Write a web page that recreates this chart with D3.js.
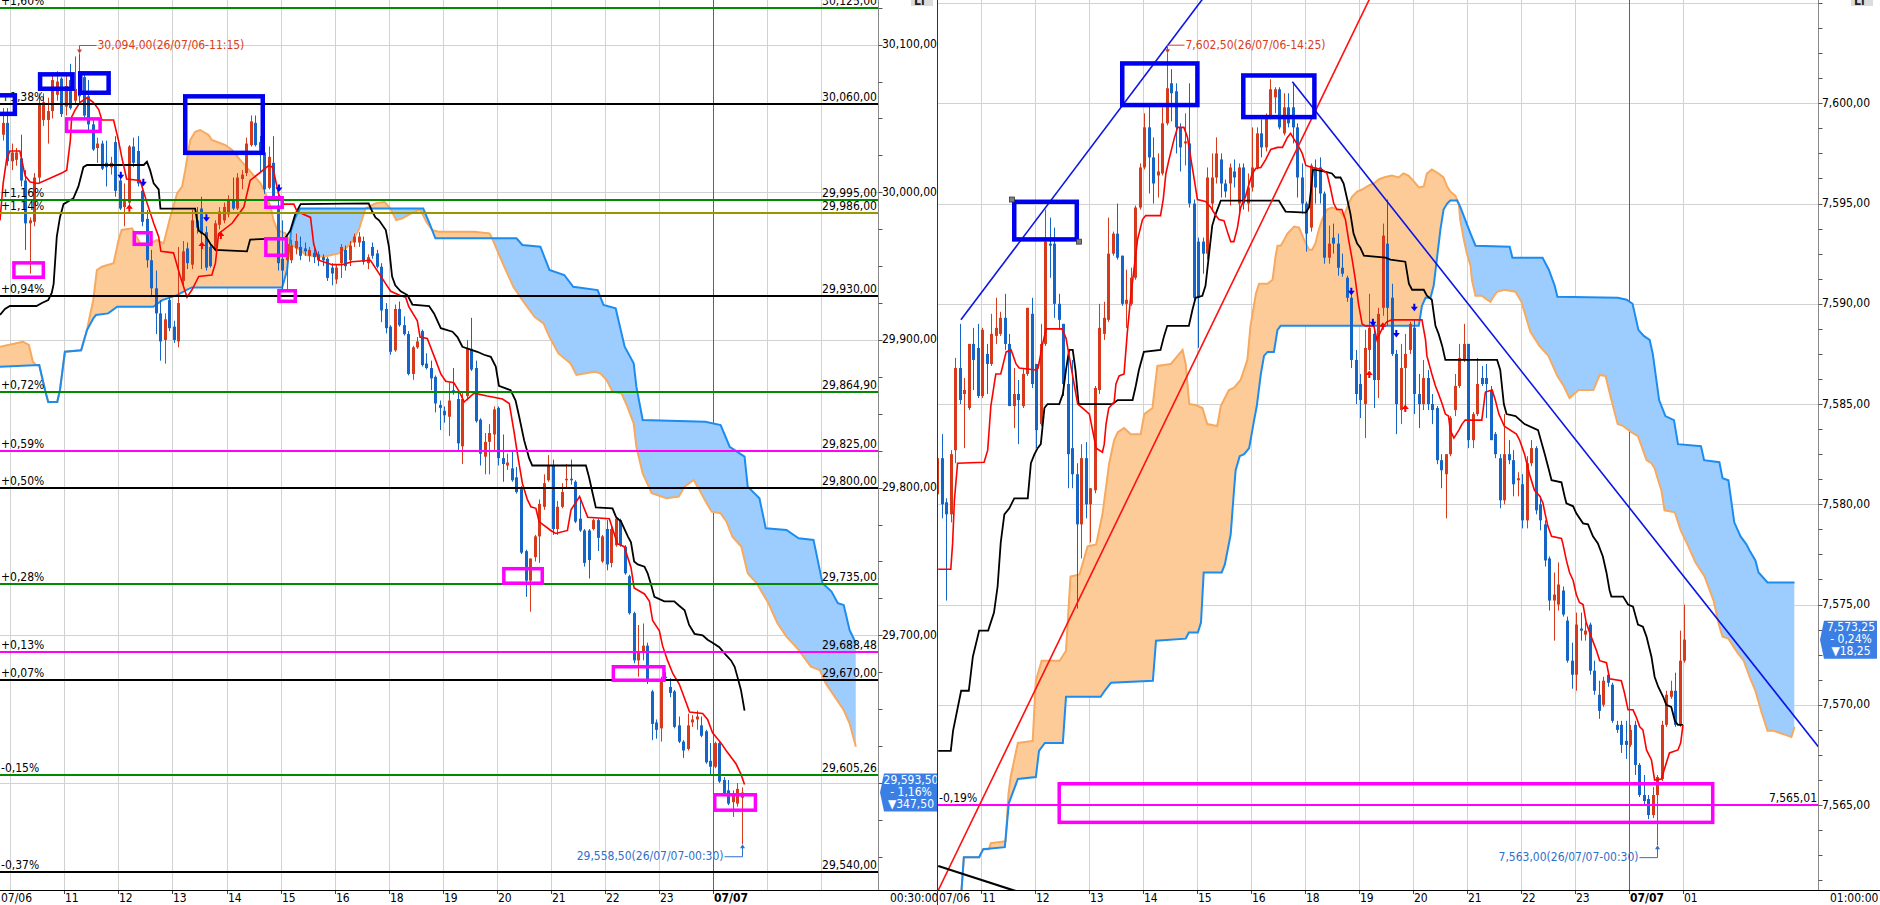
<!DOCTYPE html>
<html><head><meta charset="utf-8">
<script src="https://cdn.jsdelivr.net/npm/d3@7"></script>
<style>
body{margin:0;background:#fff;overflow:hidden}
svg{display:block}
text{font-family:"Liberation Sans Narrow","Arial Narrow","DejaVu Sans Condensed",sans-serif;font-size:12px}
</style></head><body>
<svg id="c" width="1880" height="905"></svg>
<script>
// ================= DATA =================
// Left panel (index 0 = first visible 5-min candle)
const leftCandles = [
[30039,30057,30035,30047],[30047,30057,30018,30021],[30021,30033,30015,30027],[30022,30030,30018,30027],[30023,30039,30004,30008],
[30008,30015,29961,29979],[29979,29983,29945,29981],[29980,30013,29977,30010],[30010,30067,30006,30060],[30049,30067,30045,30061],
[30049,30064,30033,30055],[30055,30080,30050,30076],[30066,30082,30062,30075],[30077,30078,30051,30053],[30058,30080,30052,30072],
[30076,30087,30056,30057],[30062,30092,30060,30070],[30074,30094,30060,30065],[30078,30080,30050,30052],[30065,30076,30042,30046],
[30046,30049,30028,30029],[30030,30037,30020,30033],[30033,30035,30015,30016],[30020,30035,30004,30017],[30017,30024,30012,30020],
[30034,30038,29997,30001],[30008,30012,29988,29989],[29990,30006,29977,29994],[29993,30032,29988,30031],[30031,30037,30017,30020],
[30028,30038,30004,30006],[30001,30005,29977,29980],[29982,29988,29949,29954],[29954,29961,29929,29935],[29935,29947,29904,29918],
[29918,29927,29886,29899],[29900,29918,29884,29914],[29927,29930,29906,29908],[29909,29913,29898,29900],[29899,29963,29895,29925],
[29940,29967,29935,29960],[29962,29966,29948,29952],[29951,29988,29948,29981],[29981,29990,29972,29976],[29989,29997,29948,29972],
[29973,29977,29947,29949],[29963,29965,29949,29950],[29961,29981,29960,29979],[29978,29990,29975,29987],[29981,29993,29979,29990],
[29985,29998,29983,29995],[29995,30010,29988,29989],[29989,30013,29988,30010],[30009,30015,30002,30012],[30013,30037,30011,30033],
[30032,30052,30031,30048],[30047,30052,30031,30032],[30034,30038,30013,30028],[30027,30038,29999,30002],[30003,30031,30002,30024],
[30020,30038,29994,29995],[29991,30002,29947,29952],[29955,29981,29934,29947],[29954,29970,29933,29965],[29954,29968,29952,29964],
[29962,29972,29958,29967],[29963,29970,29954,29957],[29962,29966,29957,29960],[29957,29963,29953,29961],[29959,29962,29952,29956],
[29958,29960,29950,29954],[29956,29958,29950,29954],[29955,29956,29940,29942],[29949,29952,29937,29945],[29941,29951,29938,29949],
[29952,29965,29942,29963],[29961,29964,29947,29950],[29954,29967,29950,29964],[29966,29972,29963,29970],[29966,29973,29963,29970],
[29967,29970,29951,29953],[29952,29958,29948,29956],[29963,29966,29955,29957],[29958.6,29961,29948.5,29949.6],[29949.6,29952,29912,29920],
[29921,29925,29904.5,29908],[29909,29910,29890,29892],[29893,29924,29892,29921],[29921,29926,29909,29910],[29910,29916,29903,29904],
[29904,29906,29876,29877],[29877,29896,29873,29895],[29895,29902,29894,29899],[29906,29907,29882,29883],[29884,29891,29880,29881],
[29881,29886,29866,29874],[29875,29876,29851,29857],[29856,29859,29839,29854],[29852,29855,29844,29849],[29848,29871,29835,29859],
[29866,29881,29863,29865],[29860,29866,29825,29830],[29828,29864,29816,29860],[29862,29900,29859,29894],[29894,29915,29879,29880],
[29881,29886,29844,29845],[29846,29847,29815,29823],[29821,29837,29809,29831],[29831,29843,29809,29837],[29836,29855,29825,29853],
[29854,29855,29815,29820],[29820,29836,29804,29816],[29815,29823,29812,29817],[29813,29825,29804,29805],[29807,29814,29796,29797],
[29799,29801,29755,29756],[29757,29758,29726,29737],[29737,29752,29716,29752],[29753,29768,29750,29767],[29767,29792,29749,29789],
[29787,29809,29785,29803],[29805,29822,29804,29815],[29815,29819,29768,29772],[29772,29791,29768,29787],[29787,29803,29786,29797],
[29805,29816,29800,29806],[29806,29819,29802,29805],[29804,29805,29776,29777],[29779,29793,29770,29771],[29771,29772,29746.5,29749],
[29771,29772,29738.5,29751],[29772,29779,29771,29778],[29778,29779,29757,29766],[29750,29768,29749,29767],[29772,29778,29744,29748],
[29749,29774,29746,29772],[29761,29780,29760,29779],[29778,29779,29760,29761],[29760,29761,29741,29742],[29740,29741,29714,29715],
[29715,29716,29681,29683],[29683,29707,29672,29688],[29688,29708,29683,29693],[29693,29695,29667,29669],[29662,29663,29629,29640],
[29641,29643,29630,29636],[29637,29672,29628,29669],[29672,29675,29670,29671],[29665,29671,29658,29661],[29662,29663,29637,29638],
[29639,29645,29627,29628],[29628,29629,29617,29622],[29623,29647,29622,29639],[29641,29646,29638,29643],[29643,29649,29636,29645],
[29639,29645,29631,29632],[29635,29636,29613,29614],[29615,29627,29606,29611],[29611,29628,29610,29627],[29627,29628,29600,29601],
[29602,29604,29591,29593],[29595,29602,29585,29586],[29587,29595,29577,29593],[29586,29600,29584,29596],[29590,29597,29558.5,29593.5]
];
const leftTenkan = [[-0.6,29981],[0.1,30006],[0.9,30023],[1.6,30028],[3.8,30028],[5.0,30011],[6.1,30007],[7.9,30006],[13.1,30013],[14.2,30015],[15.0,30035],[15.3,30051],[16.1,30056],[17.2,30061],[18.7,30064],[20.1,30061],[21.3,30056],[22.0,30049],[24.6,30049],[25.7,30035],[26.4,30024],[27.5,30009],[30.5,30008],[32.0,29993],[33.5,29979],[34.6,29970],[35.1,29960],[37.9,29959],[39.4,29943],[40.9,29929],[42.0,29934],[43.5,29943],[46.4,29944],[47.2,29952],[47.9,29972],[50.9,29979],[53.5,29990],[54.9,30008],[59.0,30018],[59.9,30017],[61.2,29999],[62.4,29992],[64.6,29992],[65.3,29987],[68.3,29983],[69.0,29965],[70.1,29954],[73.1,29951],[75.3,29951],[77.5,29953],[81.6,29954],[85.0,29938],[86.1,29933],[88.3,29930],[89.4,29929],[90.1,29922.5],[92.0,29913],[92.6,29902],[94.2,29901],[96.1,29886],[97.2,29877],[98.3,29872],[100.1,29871],[101.3,29865],[102.4,29858],[103.1,29860],[104.6,29864],[107.5,29862],[110.9,29860],[112.4,29857],[113.5,29837],[114.2,29823],[115.3,29803],[116.4,29792],[117.2,29787],[118.3,29786],[119.0,29777],[121.6,29771],[122.7,29769],[125.3,29771],[126.1,29785],[128.0,29794],[129.0,29786],[129.8,29780],[134.6,29779],[136.4,29762],[137.9,29760],[139.4,29746],[140.1,29732],[142.4,29728],[143.5,29723],[144.2,29710],[145.7,29703],[146.4,29693],[147.5,29683],[148.7,29674],[150.1,29667],[151.2,29658],[152.4,29648],[155.3,29647],[156.4,29643],[157.5,29634],[159.4,29627],[160.5,29622],[162.7,29613],[163.8,29606],[164.6,29599]];
const leftKijun = [[-0.6,29917],[0.5,29921],[1.6,29923],[7.5,29923],[8.7,29925],[10.1,29927],[10.9,29932],[11.3,29938],[12.0,29970],[12.7,29983],[13.5,29992],[15.7,29996],[16.8,30004],[17.9,30017],[18.7,30018.5],[31.3,30018.5],[32.0,30020.7],[32.7,30015],[33.5,30006],[34.6,30002],[35.0,29989],[42.7,29989],[43.5,29974],[44.9,29971],[46.1,29965],[47.2,29961],[54.2,29960],[54.9,29968],[62.7,29969],[63.8,29974],[64.9,29985],[66.1,29992],[81.2,29992.5],[82.0,29987],[82.7,29983],[83.5,29981],[85.0,29974.4],[85.7,29963],[86.4,29943],[87.1,29937],[88.3,29933],[89.8,29930.4],[90.9,29924],[94.6,29923],[95.7,29918],[97.2,29908],[99.8,29905.6],[100.9,29902],[102.0,29895.4],[105.3,29892],[106.8,29890],[108.3,29888.6],[109.4,29882],[110.1,29869],[112.7,29866],[113.8,29859],[114.6,29848],[115.7,29832],[116.8,29820],[117.5,29815],[129.4,29815],[130.1,29807],[130.9,29796],[131.6,29786.6],[135.3,29786],[136.1,29780],[137.2,29777],[138.7,29767],[139.4,29763],[140.1,29750],[140.9,29748],[142.4,29746.5],[143.1,29742],[143.8,29735],[144.6,29726],[146.8,29723],[149.0,29723],[150.1,29720],[151.3,29717],[152.3,29707],[153.5,29701],[155.3,29700],[156.4,29697],[157.5,29695],[159.0,29692],[160.5,29686.6],[161.6,29683],[162.4,29678.7],[163.1,29671],[163.8,29663],[164.6,29649]];
const leftSpanA = [[-0.6,29895.4],[4.5,29898.8],[5.8,29896.6],[6.7,29885.3],[7.4,29883],[8.1,29883],[9.4,29866],[10.1,29858],[12.1,29858],[12.7,29866],[13.8,29892],[17.4,29893],[18.7,29906.7],[19.0,29911.3],[20.1,29927.1],[20.9,29947.4],[22.0,29949.6],[24.6,29951.9],[25.7,29967.7],[26.4,29974.5],[28.7,29975.6],[30.5,29965.4],[32.7,29965.4],[34.2,29967.7],[35.7,29965.4],[37.2,29983.5],[38.7,29999.3],[39.8,30003.8],[40.5,30015],[41.6,30035.4],[42.7,30041],[43.8,30042.2],[45.7,30038.8],[46.4,30035.4],[49.4,30032],[50.9,30028.6],[52.4,30023],[55.3,30012.8],[57.2,30006.1],[58.3,29999.3],[59.4,29990.3],[60.1,29981.2],[60.9,29974.5],[62.7,29972.2],[64.2,29964.3],[66.1,29960.9],[67.2,29957.5],[71.2,29956.4],[74.6,29958.6],[76.1,29962],[77.5,29966.5],[79.0,29974.5],[80.5,29989.1],[82.0,29991.4],[82.7,29992.5],[84.7,29993.6],[86.0,29989.1],[87.3,29981.2],[88.7,29982.3],[91.3,29986.9],[92.7,29988],[94.0,29980],[95.3,29974.4],[96.7,29973.3],[104.6,29973.3],[108.0,29972.2],[108.6,29968.8],[110.0,29958.6],[111.3,29949.6],[113.3,29936],[115.3,29927],[118.0,29915.7],[120.0,29911.2],[121.3,29902.2],[123.3,29890.9],[126.0,29884.1],[127.3,29876.3],[131.3,29878.5],[132.6,29877.4],[134.0,29872.9],[135.3,29865],[137.3,29863.8],[138.6,29854.8],[140.0,29843.5],[140.6,29827.7],[142.0,29809.7],[144.0,29796.2],[147.3,29792.8],[150.0,29793.9],[151.3,29800.7],[153.3,29805.2],[154.6,29798.4],[156.0,29790.5],[157.3,29783.7],[159.3,29782.6],[160.6,29777],[161.9,29766.8],[163.9,29760],[165.3,29742],[167.3,29735.2],[169.9,29721.7],[171.9,29708.1],[173.9,29699.1],[176.6,29690.1],[179.3,29678.8],[181.3,29676.5],[182.6,29667.5],[184.6,29658.5],[186.6,29649.4],[187.9,29640.4],[189.3,29624.6]];
const leftSpanB = [[-0.6,29881.9],[8.1,29883],[9.4,29866],[10.1,29858],[12.1,29858],[12.7,29866],[13.8,29892],[17.4,29893],[18.7,29906.7],[20.1,29914.6],[20.7,29916.9],[23.4,29918],[25.4,29922.5],[33.4,29922.5],[35.4,29927],[38.7,29930.4],[40.7,29933.8],[42.0,29935.6],[62.0,29935.6],[63.1,29947.4],[64.0,29974.4],[65.0,29983.5],[66.0,29989.1],[93.3,29989.1],[94.7,29979],[96.0,29968.8],[114.0,29968.8],[115.3,29964.3],[119.3,29963.2],[121.3,29947.4],[124.6,29944],[126.6,29936],[132.0,29933.8],[133.3,29923.7],[136.0,29921.4],[138.0,29895.4],[140.0,29884.2],[140.6,29868.4],[142.0,29845.8],[155.9,29844.6],[159.3,29842.4],[161.3,29827.7],[164.6,29821],[165.3,29800.7],[167.9,29792.8],[169.3,29772.5],[173.9,29771.3],[176.6,29765.7],[179.9,29764.6],[181.9,29735.2],[183.9,29729.6],[185.3,29721.7],[186.6,29720.5],[187.9,29703.6],[189.3,29694.6]];
const leftLevelValues = [30125,30060,29995,29986,29930,29864.9,29825,29800,29735,29688.48,29670,29605.26,29540];
const leftLevelPct = ["+1,60%","+1,38%","+1,16%","+1,14%","+0,94%","+0,72%","+0,59%","+0,50%","+0,28%","+0,13%","+0,07%","-0,15%","-0,37%"];
const leftLevelKind = ["g","k","g","o","k","g","m","k","g","m","k","g","k"];
const leftTicks = [30100,30000,29900,29800,29700];
const leftGridValues = [30100,30000,29900,29800,29700,29600];
const leftBlueBoxes = [[-5,3.2,30067.2,30051.6],[7.8,16.0,30081.4,30068.6],[16.7,24.0,30082.1,30065.9],[40.0,58.2,30066.5,30025.2]];
const leftPinkBoxes = [[2.1,9.4,29953.4,29941.3],[13.8,22.0,30050.9,30040.1],[28.8,33.3,29973.8,29963.6],[58.0,62.4,29997.5,29988.7],[58.0,63.3,29969.7,29956.2],[60.9,65.3,29934.5,29925.0],[110.8,120.1,29746.3,29734.1],[135.1,147.1,29679.9,29668.4],[157.6,167.4,29593.2,29580.4]];
const leftSignalsDown = [[26.2,30011.2],[31.2,30006.5],[45.2,29982.5],[61.3,30002.6]];
const leftSignalsUp = [[28.1,29989.6],[44.2,29964.3],[48.4,29971]];
const leftTag = ["29,593,50","- 1,16%","\u25BC347,50"];
const leftHiTime = "(26/07/06-11:15)", leftLoTime = "(26/07/07-00:30)";

// Right panel (index 4 = first visible candle, same time slots)
const rightStart = 4;
const rightCandles = [
[7580.5,7583.5,7579.6,7582.3],[7582.3,7583.5,7579.3,7580.0],[7580.1,7580.3,7575.2,7579.5],[7579.5,7582.7,7579.1,7582.5],[7582.7,7587.3,7582.05,7586.8],
[7586.8,7589.0,7585.0,7585.2],[7585.5,7586.3,7582.8,7585.7],[7584.8,7588.0,7584.7,7588.0],[7588.0,7588.8,7585.7,7587.2],[7587.8,7589.0,7585.3,7585.4],
[7585.4,7588.8,7585.3,7588.7],[7587.5,7588.0,7585.5,7587.0],[7587.0,7589.5,7586.9,7588.5],[7588.4,7590.3,7588.0,7588.8],[7588.5,7589.6,7588.4,7589.3],
[7589.3,7590.5,7587.7,7588.0],[7588.0,7588.5,7584.9,7584.9],[7584.9,7586.8,7583.8,7585.5],[7585.5,7586.2,7583.0,7585.2],[7584.9,7586.8,7584.8,7586.5],
[7586.5,7589.8,7586.4,7589.8],[7589.5,7590.3,7585.8,7586.0],[7587.0,7587.0,7582.8,7583.7],[7584.0,7589.0,7583.9,7588.0],[7588.0,7594.7,7587.9,7593.1],
[7593.0,7594.3,7591.3,7592.9],[7593.0,7593.8,7589.3,7590.0],[7590.0,7590.5,7588.7,7589.2],[7589.0,7589.0,7585.4,7586.0],[7586.0,7587.7,7580.8,7582.5],
[7582.8,7587.2,7580.8,7581.5],[7581.5,7582.05,7574.8,7579.0],[7579.0,7583.0,7577.3,7582.3],[7582.3,7583.1,7579.3,7580.0],[7580.0,7580.8,7578.1,7580.8],
[7580.7,7585.9,7580.55,7585.8],[7585.7,7590.0,7585.5,7588.8],[7588.5,7590.1,7588.2,7589.3],[7589.2,7594.3,7589.1,7592.5],[7592.5,7593.6,7592.4,7593.5],
[7593.5,7595.0,7592.2,7592.3],[7592.4,7592.4,7589.9,7590.0],[7590.0,7591.7,7588.8,7590.2],[7590.0,7591.8,7589.9,7591.3],[7591.3,7594.9,7591.2,7594.8],
[7594.8,7597.0,7594.7,7596.8],[7596.8,7599.5,7596.7,7598.8],[7598.8,7599.9,7595.5,7597.3],[7597.3,7598.3,7595.0,7596.0],[7596.4,7597.5,7595.3,7596.6],
[7596.5,7599.8,7596.4,7599.0],[7599.0,7602.5,7598.9,7600.75],[7601.0,7601.7,7599.1,7600.5],[7600.6,7601.0,7597.5,7598.8],[7598.8,7599.0,7596.6,7597.8],
[7598.0,7599.5,7596.9,7598.1],[7598.0,7601.0,7594.8,7595.0],[7595.0,7595.2,7590.0,7590.3],[7593.1,7593.3,7587.8,7590.3],[7593.1,7593.3,7591.5,7592.5],
[7592.5,7596.8,7592.2,7596.3],[7595.0,7597.5,7594.6,7596.3],[7596.3,7598.3,7596.0,7597.5],[7597.2,7597.5,7595.3,7596.0],[7596.0,7596.2,7595.3,7595.6],
[7596.0,7597.0,7594.9,7596.8],[7596.6,7597.2,7595.8,7596.3],[7595.0,7597.0,7594.6,7596.8],[7596.8,7597.0,7594.7,7595.0],[7595.0,7596.5,7594.6,7595.8],
[7595.8,7598.8,7595.6,7596.8],[7596.8,7598.8,7596.7,7598.5],[7598.5,7599.2,7597.3,7597.8],[7597.8,7599.5,7597.6,7599.3],[7599.3,7601.2,7599.2,7600.7],
[7600.3,7600.8,7599.5,7600.7],[7600.7,7600.8,7598.7,7598.8],[7598.5,7600.5,7598.4,7599.8],[7599.8,7600.5,7598.8,7599.0],[7599.8,7601.0,7598.0,7598.8],
[7598.8,7599.0,7595.3,7596.3],[7596.3,7597.0,7594.5,7595.0],[7595.0,7595.1,7592.6,7593.5],[7593.8,7597.0,7593.6,7596.9],[7596.8,7597.2,7595.0,7595.8],
[7596.8,7597.3,7595.0,7595.5],[7595.5,7595.6,7592.0,7592.3],[7592.3,7593.9,7592.0,7593.0],[7593.3,7594.0,7592.5,7593.0],[7593.0,7593.5,7591.4,7591.8],
[7591.8,7592.5,7591.35,7591.5],[7591.3,7591.4,7590.1,7590.3],[7590.3,7590.6,7586.8,7587.2],[7587.2,7587.7,7585.0,7585.5],[7586.0,7586.5,7584.3,7585.2],
[7585.0,7588.7,7583.3,7587.8],[7587.7,7590.5,7586.7,7588.8],[7588.5,7589.1,7584.8,7586.2],[7586.2,7589.8,7585.3,7589.5],[7589.8,7594.0,7589.4,7593.4],
[7593.0,7595.2,7588.9,7589.8],[7590.3,7591.0,7587.4,7587.5],[7587.5,7587.7,7583.5,7585.0],[7584.7,7588.0,7584.0,7586.8],[7586.8,7588.5,7584.7,7587.5],
[7587.7,7589.1,7587.5,7589.0],[7588.8,7589.2,7584.5,7585.5],[7585.5,7586.5,7583.8,7585.0],[7585.0,7587.2,7584.7,7586.3],[7586.3,7586.7,7584.7,7585.0],
[7585.0,7585.5,7584.0,7584.7],[7584.8,7584.9,7582.0,7582.2],[7582.2,7582.5,7580.8,7581.7],[7581.5,7582.5,7579.3,7582.5],[7582.5,7584.4,7582.4,7584.3],
[7584.7,7586.5,7584.4,7585.9],[7585.9,7588.0,7585.8,7587.3],[7587.2,7589.0,7587.1,7588.0],[7588.0,7588.0,7582.8,7583.2],[7583.2,7584.6,7582.8,7584.5],
[7584.5,7587.3,7584.4,7586.0],[7586.3,7586.9,7585.9,7586.0],[7586.3,7587.0,7584.3,7586.0],[7585.7,7585.9,7583.2,7583.2],[7583.5,7583.6,7582.3,7582.5],
[7582.3,7582.5,7579.8,7580.2],[7580.2,7584.5,7580.0,7582.5],[7582.5,7583.2,7582.0,7582.2],[7582.2,7582.7,7580.4,7581.0],[7581.2,7581.6,7580.4,7581.3],
[7581.0,7581.5,7578.8,7579.2],[7579.2,7582.4,7578.8,7582.05],[7582.05,7583.2,7581.9,7582.8],[7582.8,7582.9,7579.5,7579.7],[7580.0,7580.4,7578.7,7579.2],
[7579.0,7579.2,7576.9,7577.2],[7577.3,7577.4,7574.7,7575.2],[7575.2,7576.6,7573.2,7575.5],[7575.0,7577.1,7574.7,7576.0],[7575.7,7575.9,7574.4,7574.5],
[7574.2,7574.4,7572.1,7572.2],[7572.2,7573.1,7570.8,7571.5],[7571.5,7574.6,7570.7,7574.0],[7573.8,7574.6,7573.2,7573.7],[7573.5,7574.1,7573.2,7573.7],
[7574.0,7574.1,7571.5,7571.7],[7571.7,7572.2,7570.5,7570.7],[7570.5,7571.2,7569.3,7569.7],[7570.0,7571.4,7569.9,7571.2],[7571.5,7571.7,7570.9,7571.1],
[7571.0,7571.1,7569.1,7569.2],[7569.0,7569.2,7568.6,7568.75],[7569.0,7569.2,7567.6,7568.0],[7568.2,7569.2,7567.3,7568.0],[7568.0,7569.0,7567.9,7568.75],
[7569.0,7569.2,7566.5,7567.0],[7567.0,7567.1,7565.4,7565.5],[7565.5,7566.5,7565.0,7565.2],[7565.3,7565.5,7564.3,7564.5],[7564.5,7565.9,7564.35,7565.5],
[7565.5,7566.5,7563.0,7566.4],[7566.3,7569.2,7566.2,7569.0],[7569.0,7570.7,7568.9,7570.5],[7570.4,7571.2,7570.3,7570.7],[7570.7,7571.6,7568.9,7569.0],
[7569.0,7573.7,7568.9,7572.2],[7572.2,7575.0,7572.1,7573.25]
];
const rightTenkan = [[4.2,7576.76],[7.0,7576.76],[7.4,7578.05],[7.8,7580.2],[8.5,7582.05],[14.4,7582.1],[15.2,7582.7],[15.9,7584.9],[17.0,7586.5],[18.1,7586.5],[19.3,7587.6],[20.4,7587.7],[21.5,7587.0],[22.2,7586.8],[25.9,7586.7],[26.4,7586.8],[27.4,7588.0],[28.2,7588.75],[31.7,7588.75],[32.6,7588.3],[33.3,7587.4],[34.4,7586.0],[35.2,7585.0],[36.3,7584.8],[37.8,7584.5],[38.5,7583.7],[39.3,7582.8],[40.7,7582.6],[41.1,7583.0],[41.5,7584.0],[42.1,7584.8],[43.3,7585.1],[43.7,7586.0],[44.4,7586.4],[45.5,7586.5],[46.2,7588.5],[47.0,7590.4],[48.5,7593.2],[49.6,7594.2],[50.3,7594.4],[53.6,7594.4],[54.2,7595.2],[54.8,7596.5],[55.5,7597.2],[56.6,7598.2],[57.4,7598.8],[58.8,7598.8],[59.6,7598.3],[60.3,7597.3],[61.1,7596.2],[61.8,7595.2],[63.6,7595.1],[64.8,7594.8],[65.9,7594.4],[66.6,7594.2],[67.7,7594.15],[68.6,7593.5],[69.2,7593.1],[69.9,7593.1],[70.7,7593.8],[71.4,7594.8],[72.5,7595.35],[73.3,7596.0],[74.0,7596.5],[74.8,7596.76],[75.9,7596.8],[77.0,7597.2],[78.1,7597.7],[79.6,7597.8],[80.7,7597.8],[81.8,7598.3],[82.5,7598.5],[83.3,7598.2],[84.4,7597.8],[85.1,7597.5],[85.9,7596.9],[87.3,7596.8],[89.5,7596.7],[90.6,7596.5],[91.3,7595.85],[92.1,7595.0],[92.8,7594.7],[93.9,7594.7],[94.7,7594.2],[95.4,7593.2],[96.2,7592.2],[96.9,7591.2],[97.6,7590.0],[98.4,7589.0],[99.1,7588.9],[101.0,7588.9],[101.7,7588.2],[102.5,7588.6],[103.2,7588.9],[103.9,7589.1],[105.0,7589.2],[111.7,7589.2],[112.5,7588.2],[112.8,7587.4],[113.9,7586.5],[114.7,7585.9],[115.4,7585.5],[116.2,7585.0],[116.9,7584.5],[117.6,7584.4],[118.0,7583.7],[118.8,7583.3],[119.9,7583.7],[120.6,7584.0],[121.3,7584.2],[125.0,7584.2],[125.8,7585.6],[127.3,7585.7],[128.0,7585.2],[128.8,7584.5],[130.0,7583.9],[132.7,7583.5],[133.4,7583.2],[134.5,7582.5],[135.6,7581.5],[136.7,7580.7],[137.9,7580.4],[138.6,7580.05],[139.0,7579.6],[139.7,7578.9],[140.5,7578.4],[142.7,7578.3],[143.0,7578.05],[143.8,7577.2],[144.5,7576.6],[145.3,7576.2],[146.0,7575.5],[146.7,7575.1],[147.5,7575.0],[148.2,7574.1],[149.3,7573.4],[150.5,7572.7],[151.2,7572.2],[152.7,7572.1],[153.4,7571.3],[156.0,7571.2],[156.7,7570.6],[157.5,7569.75],[158.6,7569.75],[159.3,7569.4],[160.1,7568.9],[160.8,7568.75],[161.6,7567.75],[162.7,7567.25],[163.4,7566.25],[164.9,7566.3],[166.0,7567.1],[166.7,7567.6],[168.6,7567.75],[169.2,7568.1],[169.7,7569.0]];
const rightKijun = [[4.2,7567.7],[7.0,7567.7],[7.5,7568.7],[9.3,7570.7],[11.0,7570.7],[11.9,7572.4],[13.3,7573.7],[15.3,7573.7],[16.6,7574.6],[17.4,7575.9],[18.1,7578.1],[18.9,7579.5],[20.0,7579.8],[21.1,7580.3],[24.1,7580.3],[24.8,7582.05],[25.6,7582.5],[26.3,7582.8],[27.0,7583.0],[27.8,7584.8],[28.5,7585.0],[31.1,7585.0],[31.9,7585.5],[32.6,7586.7],[33.3,7587.7],[34.1,7587.7],[34.7,7586.7],[35.4,7585.0],[42.9,7585.0],[44.1,7585.2],[47.4,7585.2],[48.1,7585.9],[48.8,7586.7],[49.9,7587.6],[53.6,7587.7],[54.4,7588.4],[55.1,7588.9],[59.9,7588.9],[60.7,7589.7],[61.4,7590.3],[62.9,7590.4],[63.6,7590.9],[64.4,7592.5],[65.1,7593.9],[65.9,7594.5],[67.0,7595.15],[79.9,7595.15],[80.7,7594.85],[81.4,7594.6],[85.9,7594.55],[86.6,7594.8],[87.0,7595.6],[87.5,7596.7],[89.9,7596.6],[91.7,7596.5],[92.5,7596.3],[93.6,7596.3],[94.3,7596.0],[95.0,7595.3],[95.8,7594.5],[96.5,7593.5],[97.3,7593.0],[98.0,7592.8],[98.8,7592.4],[103.6,7592.3],[104.7,7592.2],[108.0,7592.1],[108.8,7591.0],[109.5,7590.7],[112.1,7590.7],[112.8,7590.4],[113.9,7590.2],[114.7,7588.9],[115.4,7588.5],[116.2,7587.9],[116.9,7587.2],[128.4,7587.2],[129.1,7586.7],[129.9,7585.0],[130.5,7584.5],[132.5,7584.4],[134.5,7584.0],[136.5,7583.8],[137.5,7583.7],[139.0,7582.5],[139.7,7581.9],[140.5,7581.2],[142.7,7581.1],[143.4,7580.4],[143.8,7580.05],[145.3,7579.9],[146.0,7579.55],[147.5,7579.05],[148.6,7579.0],[149.7,7578.4],[150.8,7578.05],[151.9,7577.4],[152.7,7576.6],[153.4,7575.7],[153.8,7575.4],[156.4,7575.4],[157.5,7575.0],[158.6,7574.9],[159.7,7574.0],[160.8,7573.9],[161.6,7573.4],[162.7,7572.4],[163.4,7571.4],[164.2,7570.9],[165.3,7570.4],[166.0,7570.0],[167.1,7569.9],[167.9,7569.2],[168.6,7569.0],[169.7,7569.0]];
const rightSpanA = [[4.2,7560.0],[9.3,7560.5],[9.9,7562.4],[13.3,7562.4],[14.2,7562.8],[15.5,7562.8],[15.9,7563.1],[19.2,7563.2],[19.8,7565.5],[20.3,7566.4],[21.9,7568.1],[25.2,7568.2],[25.9,7571.2],[27.2,7572.2],[31.2,7572.2],[32.6,7572.7],[33.6,7576.4],[35.6,7576.5],[37.4,7577.9],[39.3,7578.0],[40.7,7579.5],[42.2,7582.05],[43.3,7583.2],[44.1,7583.6],[45.5,7583.8],[47.0,7583.5],[49.2,7583.5],[50.0,7584.5],[51.8,7584.8],[52.9,7586.9],[55.9,7587.0],[57.4,7587.4],[58.5,7587.7],[59.2,7587.0],[59.6,7586.0],[60.0,7585.0],[61.4,7584.95],[62.9,7584.8],[64.0,7584.0],[66.2,7583.9],[67.0,7584.9],[68.8,7585.7],[69.9,7585.8],[71.4,7586.2],[72.9,7587.2],[73.6,7588.9],[74.8,7590.5],[75.5,7591.0],[77.4,7591.0],[78.5,7591.2],[79.2,7592.4],[79.6,7592.9],[80.3,7592.9],[81.1,7593.2],[81.8,7593.5],[83.3,7593.85],[84.4,7593.8],[85.5,7593.2],[86.6,7592.7],[87.3,7592.7],[88.0,7593.0],[88.8,7593.7],[89.5,7594.2],[90.6,7594.7],[91.7,7594.8],[93.2,7594.7],[94.3,7594.35],[95.4,7595.0],[96.2,7595.35],[97.3,7595.6],[98.4,7595.7],[99.9,7595.9],[101.0,7596.0],[102.1,7596.2],[103.2,7596.3],[105.0,7596.4],[106.5,7596.3],[107.6,7596.5],[108.7,7596.4],[109.9,7596.1],[111.0,7595.8],[112.1,7595.85],[112.8,7596.5],[113.9,7596.7],[115.4,7596.5],[116.5,7596.3],[117.3,7595.85],[118.0,7595.6],[119.1,7595.4],[119.9,7595.0],[120.2,7594.2],[121.0,7593.2],[121.7,7592.5],[122.5,7591.9],[122.8,7591.2],[123.6,7590.4],[125.0,7590.4],[126.2,7590.2],[126.9,7590.1],[127.6,7590.35],[128.4,7590.6],[130.0,7590.7],[132.5,7590.6],[133.8,7590.1],[135.8,7588.6],[137.8,7587.9],[139.8,7587.4],[141.8,7586.4],[143.2,7585.9],[144.5,7585.3],[146.5,7585.7],[149.8,7585.7],[151.2,7586.45],[152.5,7586.4],[153.8,7585.2],[155.2,7584.0],[156.5,7583.9],[158.2,7583.6],[159.7,7583.4],[160.5,7582.9],[161.6,7582.2],[162.7,7582.05],[163.4,7581.8],[164.2,7581.2],[164.9,7580.7],[165.6,7579.7],[167.9,7579.6],[169.2,7578.7],[170.5,7578.1],[172.5,7577.1],[174.5,7576.4],[176.5,7575.2],[177.8,7573.9],[178.5,7573.4],[179.8,7573.3],[181.8,7572.6],[183.2,7572.2],[184.5,7571.4],[185.8,7570.7],[187.2,7569.6],[188.5,7568.7],[189.8,7568.7],[192.5,7568.5],[193.8,7568.4],[194.5,7568.9]];
const rightSpanB = [[4.2,7560.0],[9.3,7560.5],[9.9,7562.4],[13.3,7562.4],[14.2,7562.8],[19.0,7562.9],[19.9,7565.1],[21.9,7566.3],[25.9,7566.4],[26.6,7567.7],[27.9,7568.1],[31.9,7568.1],[32.6,7570.4],[40.3,7570.4],[41.2,7570.7],[42.6,7571.1],[51.9,7571.2],[52.6,7573.2],[59.2,7573.3],[59.9,7573.6],[61.9,7573.6],[62.6,7574.1],[63.2,7576.6],[67.2,7576.6],[67.9,7577.0],[69.2,7578.5],[69.9,7580.6],[70.3,7581.7],[71.2,7582.4],[72.2,7582.5],[73.3,7582.8],[74.4,7584.2],[75.0,7584.9],[75.9,7586.5],[76.6,7587.4],[77.4,7587.6],[78.8,7587.6],[79.6,7588.7],[80.3,7588.9],[111.0,7588.9],[111.7,7589.9],[112.5,7590.3],[113.6,7590.3],[114.3,7590.9],[115.0,7592.2],[115.8,7593.7],[116.5,7594.7],[117.3,7595.0],[118.0,7595.15],[119.5,7595.15],[120.2,7594.85],[121.3,7594.2],[122.5,7593.5],[123.6,7592.9],[131.2,7592.85],[131.8,7592.3],[138.5,7592.3],[139.9,7591.7],[141.2,7590.9],[141.8,7590.35],[155.2,7590.3],[157.2,7590.2],[158.5,7590.0],[159.8,7588.7],[161.0,7588.4],[162.3,7588.2],[163.0,7587.5],[164.4,7585.2],[165.8,7584.4],[167.7,7584.2],[168.6,7583.0],[173.7,7582.9],[174.4,7582.2],[177.8,7582.1],[178.5,7581.3],[179.8,7581.2],[181.1,7579.1],[182.5,7578.4],[183.8,7578.0],[184.5,7577.7],[185.8,7577.2],[186.5,7576.6],[188.5,7576.1],[194.5,7576.1]];
const rightLevelValues = [7565.01];
const rightLevelPct = ["-0,19%"];
const rightLevelKind = ["m"];
const rightTicks = [7600,7595,7590,7585,7580,7575,7570,7565];
const rightGridValues = [7605,7600,7595,7590,7585,7580,7575,7570,7565];
const rightBlueBoxes = [[20.6,35.5,7595.2,7593.1],[44.6,62.3,7602.1,7599.8],[71.5,88.3,7601.5,7599.2]];
const rightPinkBoxes = [[30.7,176.7,7566.15,7564.05]];
const rightTrendBlue = [[[9.25,7589.2],[70,7607.3]],[[82.9,7601.08],[199.8,7567.91]]];
const rightTrendRed = [[[3.5,7560.42],[105,7607.5]]];
const rightTrendBlack = [[[4.2,7561.96],[22,7560.67]]];
const rightSignalsDown = [[96.0,7590.6],[100.8,7589.05],[106.0,7588.5],[110.0,7589.8]];
const rightSignalsUp = [[100.0,7586.5],[103.0,7588.9],[108.0,7584.8]];
const rightTag = ["7,573,25","- 0,24%","\u25BC18,25"];
const rightHiTime = "(26/07/06-14:25)", rightLoTime = "(26/07/07-00:30)";

const hourLabels = ["07/06","11","12","13","14","15","16","18","19","20","21","22","23","07/07","01","02"];
const leftCornerTime = "00:30:00", rightCornerTime = "01:00:00";

// ================= RENDER =================
const svg = d3.select('#c');
const defs = svg.append('defs');
const fmt = v => d3.format(',.2f')(v).replace('.', ',');
const PLOT_B = 890;
const levelColor = {g:'#008a00', k:'#000000', o:'#9a9600', m:'#ff00ff'};
const UP = '#d63a1a', DN = '#1565c8';

const panels = [
 {id:'L', x0:0, x1:878, xs:d3.scaleLinear().domain([0,100]).range([2.7,453.4]),
  ys:d3.scaleLinear().domain([30000,29900]).range([192.3,339.97]), minor:25, yMin:29500, yMax:30150,
  candles:leftCandles, start:0, tenkan:leftTenkan, kijun:leftKijun, A:leftSpanA, B:leftSpanB,
  lv:leftLevelValues, lp:leftLevelPct, lk:leftLevelKind, ticks:leftTicks, grid:leftGridValues,
  blue:leftBlueBoxes, pink:leftPinkBoxes, sd:leftSignalsDown, su:leftSignalsUp, tag:leftTag,
  hiT:leftHiTime, loT:leftLoTime, gridK:d3.range(0,16), labK:d3.range(0,14), corner:leftCornerTime,
  tb:[], tr:[], tk:[]},
 {id:'R', x0:938, x1:1818, xs:d3.scaleLinear().domain([0,100]).range([919.3,1369.3]),
  ys:d3.scaleLinear().domain([7600,7595]).range([103.3,203.55]), minor:1.25, yMin:7555, yMax:7610,
  candles:rightCandles, start:rightStart, tenkan:rightTenkan, kijun:rightKijun, A:rightSpanA, B:rightSpanB,
  lv:rightLevelValues, lp:rightLevelPct, lk:rightLevelKind, ticks:rightTicks, grid:rightGridValues,
  blue:rightBlueBoxes, pink:rightPinkBoxes, sd:rightSignalsDown, su:rightSignalsUp, tag:rightTag,
  hiT:rightHiTime, loT:rightLoTime, gridK:d3.range(1,15), labK:d3.range(0,15), corner:rightCornerTime,
  tb:rightTrendBlue, tr:rightTrendRed, tk:rightTrendBlack}
];

svg.append('rect').attr('width',1880).attr('height',905).attr('fill','#fff');

panels.forEach(P => {
  const xs = P.xs, ys = P.ys;
  const slotX = k => xs(1.66 + 12*k);
  defs.append('clipPath').attr('id','clip'+P.id).append('rect')
    .attr('x',P.x0).attr('y',0).attr('width',P.x1-P.x0).attr('height',PLOT_B);
  const g = svg.append('g').attr('clip-path',`url(#clip${P.id})`);

  // grid
  g.selectAll(null).data(P.grid).join('line')
    .attr('x1',P.x0).attr('x2',P.x1).attr('y1',d=>Math.round(ys(d))+0.5).attr('y2',d=>Math.round(ys(d))+0.5)
    .attr('stroke','#d2d2d2').attr('stroke-width',1);
  g.selectAll(null).data(P.gridK).join('line')
    .attr('x1',k=>Math.round(slotX(k))+0.5).attr('x2',k=>Math.round(slotX(k))+0.5).attr('y1',0).attr('y2',PLOT_B)
    .attr('stroke',k=>k===13?'#ff2020':'#d2d2d2').attr('stroke-width',1);

  // cloud
  const line = d3.line();
  const Ap = P.A.map(d=>[xs(d[0]),ys(d[1])]);
  const Bp = P.B.map(d=>[xs(d[0]),ys(d[1])]);
  const poly = Ap.concat(Bp.slice().reverse());
  const xa = Bp[0][0], xb = Bp[Bp.length-1][0];
  defs.append('clipPath').attr('id','up'+P.id).append('path').attr('d',line(Bp.concat([[xb,-100],[xa,-100]]))+'Z');
  defs.append('clipPath').attr('id','dn'+P.id).append('path').attr('d',line(Bp.concat([[xb,1100],[xa,1100]]))+'Z');
  g.append('path').attr('d',line(poly)+'Z').attr('fill','#fdcb98').attr('clip-path',`url(#up${P.id})`);
  g.append('path').attr('d',line(poly)+'Z').attr('fill','#9dcdff').attr('clip-path',`url(#dn${P.id})`);
  g.append('path').attr('d',line(Ap)).attr('fill','none').attr('stroke','#f7a95f').attr('stroke-width',2);
  g.append('path').attr('d',line(Bp)).attr('fill','none').attr('stroke','#1c8cf0').attr('stroke-width',2);

  // candles
  const cg = g.append('g');
  P.candles.forEach((c,n) => {
    const i = P.start + n, x = Math.round(xs(i));
    const [o,h,l,cl] = c, col = cl >= o ? UP : DN;
    cg.append('line').attr('x1',x+0.5).attr('x2',x+0.5).attr('y1',ys(h)).attr('y2',ys(l)).attr('stroke',col).attr('stroke-width',1);
    const yt = ys(Math.max(o,cl)), yb = ys(Math.min(o,cl));
    cg.append('rect').attr('x',x-1).attr('width',3).attr('y',yt).attr('height',Math.max(1,yb-yt)).attr('fill',col);
  });

  // tenkan / kijun
  const ln = d3.line().x(d=>xs(d[0])).y(d=>ys(d[1]));
  g.append('path').attr('d',ln(P.kijun)).attr('fill','none').attr('stroke','#000').attr('stroke-width',1.8);
  g.append('path').attr('d',ln(P.tenkan)).attr('fill','none').attr('stroke','#ff0000').attr('stroke-width',1.6);

  // level lines
  P.lv.forEach((v,n) => {
    const y = Math.round(ys(v));
    g.append('line').attr('x1',P.x0).attr('x2',P.x1).attr('y1',y).attr('y2',y)
      .attr('stroke',levelColor[P.lk[n]]).attr('stroke-width',2);
    g.append('text').attr('x',P.x0+1).attr('y',y-3).text(P.lp[n]).attr('fill','#000');
    g.append('text').attr('x',P.x1-1).attr('y',y-3).attr('text-anchor','end').text(fmt(v)).attr('fill','#000');
  });

  // trend lines
  P.tb.forEach(s=>g.append('path').attr('d',ln(s)).attr('stroke','#0a14e6').attr('stroke-width',1.6).attr('fill','none'));
  P.tr.forEach(s=>g.append('path').attr('d',ln(s)).attr('stroke','#ff1010').attr('stroke-width',1.6).attr('fill','none'));
  P.tk.forEach(s=>g.append('path').attr('d',ln(s)).attr('stroke','#000').attr('stroke-width',2.2).attr('fill','none'));

  // boxes
  const box = (arr,col,w) => arr.forEach(b => {
    const x0 = xs(b[0]), x1 = xs(b[1]), y0 = ys(b[2]), y1 = ys(b[3]);
    g.append('rect').attr('x',x0+w/2).attr('y',y0+w/2).attr('width',x1-x0-w).attr('height',y1-y0-w)
      .attr('fill','none').attr('stroke',col).attr('stroke-width',w);
  });
  box(P.blue,'#0000f0',4.5);
  box(P.pink,'#ff00ff',3.5);
  if (P.id==='R') {
    const b = P.blue[0];
    [[b[0],b[2]],[b[1],b[3]]].forEach(p => g.append('rect').attr('x',xs(p[0])-2.5).attr('y',ys(p[1])-2.5)
      .attr('width',5).attr('height',5).attr('fill','#808080').attr('stroke','#333').attr('stroke-width',0.8));
  }

  // signal arrows
  P.sd.forEach(s => { const x=xs(s[0]), y=ys(s[1]);
    g.append('path').attr('d',`M${x-1},${y-4}h2v3h2.5l-3.5,4.5l-3.5,-4.5h2.5z`).attr('fill','#0000ff'); });
  P.su.forEach(s => { const x=xs(s[0]), y=ys(s[1]);
    g.append('path').attr('d',`M${x-1},${y+4}h2v-3h2.5l-3.5,-4.5l-3.5,4.5h2.5z`).attr('fill','#ff0000'); });

  // hi / lo markers
  let hiN = d3.maxIndex(P.candles, c=>c[1]), loN = d3.minIndex(P.candles, c=>c[2]);
  const hv = P.candles[hiN][1], lvv = P.candles[loN][2];
  const hx = Math.round(xs(P.start+hiN))+0.5, hy = ys(hv);
  svg.append('path').attr('d',`M${hx},${hy-3}V${hy-8}H${hx+17}`).attr('fill','none').attr('stroke','#d8401c').attr('stroke-width',1);
  svg.append('path').attr('d',`M${hx-2.5},${hy-4}L${hx+2.5},${hy-4}L${hx},${hy}Z`).attr('fill','#d8401c');
  svg.append('text').attr('x',hx+18).attr('y',hy-8).attr('dominant-baseline','middle').attr('fill','#d8401c').text(fmt(hv)+P.hiT);
  const lx = Math.round(xs(P.start+loN))+0.5, ly = ys(lvv);
  svg.append('path').attr('d',`M${lx},${ly+3}V${ly+12.5}H${lx-18}`).attr('fill','none').attr('stroke','#2f6fca').attr('stroke-width',1);
  svg.append('path').attr('d',`M${lx-2.5},${ly+4}L${lx+2.5},${ly+4}L${lx},${ly}Z`).attr('fill','#2f6fca');
  svg.append('text').attr('x',lx-19).attr('y',ly+12.5).attr('dominant-baseline','middle').attr('text-anchor','end').attr('fill','#2f6fca').text(fmt(lvv)+P.loT);

  // y axis
  const ax = P.x1 + 0.5;
  svg.append('line').attr('x1',ax).attr('x2',ax).attr('y1',0).attr('y2',PLOT_B).attr('stroke','#8a8a8a');
  const minorTicks = d3.range(Math.ceil(P.yMin/P.minor)*P.minor, P.yMax, P.minor).filter(v=>ys(v)>0 && ys(v)<PLOT_B);
  svg.selectAll(null).data(minorTicks).join('line').attr('x1',ax).attr('x2',ax+4)
    .attr('y1',d=>Math.round(ys(d))+0.5).attr('y2',d=>Math.round(ys(d))+0.5).attr('stroke','#555');
  svg.selectAll(null).data(P.ticks).join('text').attr('x',P.x1+4).attr('y',d=>ys(d)).attr('dominant-baseline','middle')
    .text(d=>fmt(d)).attr('fill','#000');

  // x axis labels
  P.labK.forEach((k,n) => {
    const gx = slotX(k);
    const x = n===0 ? P.x0+1 : Math.round(gx)+1;
    svg.append('text').attr('x',x).attr('y',902).text(hourLabels[k]).attr('fill','#000')
      .attr('font-weight',hourLabels[k]==='07/07'?'bold':'normal');
    if (n>0) svg.append('line').attr('x1',Math.round(gx)+0.5).attr('x2',Math.round(gx)+0.5).attr('y1',PLOT_B).attr('y2',PLOT_B+4).attr('stroke','#444');
  });
  svg.append('text').attr('x',P.x1+12).attr('y',902).text(P.corner).attr('fill','#000');

  // price tag
  const last = P.candles[P.candles.length-1][3], ty = ys(last);
  const tx = P.x1+2;
  svg.append('path').attr('d',`M${tx},${ty}L${tx+4},${ty-19}H${tx+57}V${ty+19}H${tx+4}Z`).attr('fill','#3b7fe4');
  P.tag.forEach((t,n) => svg.append('text').attr('x',tx+31).attr('y',ty-12+n*12).attr('dominant-baseline','middle')
    .attr('text-anchor','middle').attr('fill','#fff').text(t));

  // corner "Ll"
  svg.append('rect').attr('x',P.x1+33).attr('y',0).attr('width',22).attr('height',6).attr('fill','#dcdcdc');
  svg.append('text').attr('x',P.x1+36).attr('y',5).attr('font-weight','bold').attr('fill','#222').text('Ll');
});

// frame lines
svg.append('line').attr('x1',0).attr('x2',1880).attr('y1',PLOT_B+0.5).attr('y2',PLOT_B+0.5).attr('stroke','#000');
svg.append('line').attr('x1',937.5).attr('x2',937.5).attr('y1',0).attr('y2',905).attr('stroke','#333');
</script></body></html>
